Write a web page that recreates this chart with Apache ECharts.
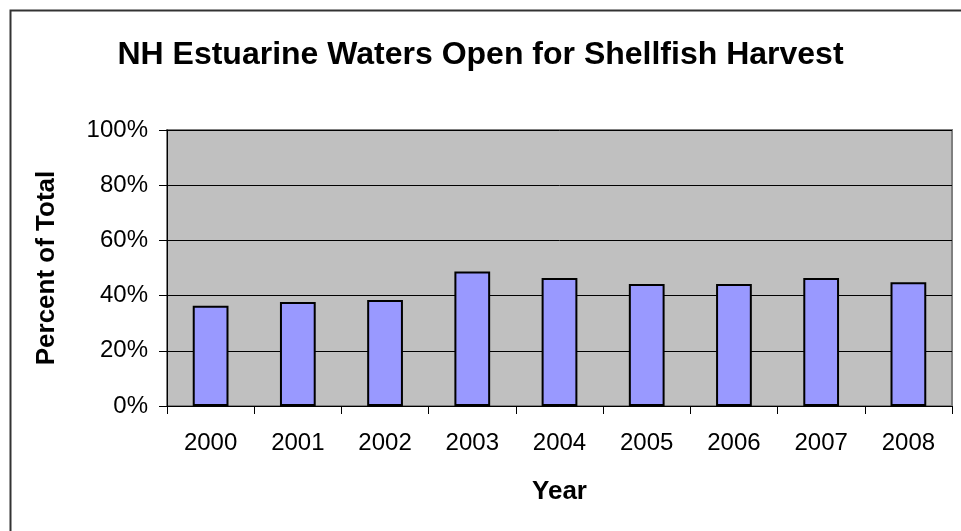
<!DOCTYPE html>
<html>
<head>
<meta charset="utf-8">
<script src="https://cdn.jsdelivr.net/npm/echarts@6/dist/echarts.min.js"></script>
<style>
html,body{margin:0;padding:0;background:#fff;}
#chart{width:961px;height:531px;}
</style>
</head>
<body>
<div id="chart"></div>
<script>
const years = ['2000','2001','2002','2003','2004','2005','2006','2007','2008'];
const percentOpen = [36.3, 37.7, 38.4, 48.7, 46.4, 44.2, 44.2, 46.4, 44.8];
const titleText = 'NH Estuarine Waters Open for Shellfish Harvest';
const yAxisTitle = 'Percent of Total';
const xAxisTitle = 'Year';

const chart = echarts.init(document.getElementById('chart'), null, {renderer:'canvas'});
const font = '"Liberation Sans", Arial, sans-serif';
chart.setOption({
  animation: false,
  backgroundColor: '#ffffff',
  graphic: [{
    type: 'rect', left: 8, top: 8, z: -1,
    shape: {width: 1000, height: 600},
    style: {fill: 'none', stroke: '#333', lineWidth: 2}
  }],
  title: {
    text: titleText, left: 'center', top: 34,
    textStyle: {fontFamily: font, fontSize: 32, fontWeight: 'bold', color: '#000'}
  },
  grid: {
    left: 167, right: 9, top: 130, bottom: 125,
    show: true, backgroundColor: '#c0c0c0', borderColor: '#808080', borderWidth: 2
  },
  xAxis: {
    type: 'category', data: years,
    name: xAxisTitle, nameLocation: 'middle', nameGap: 73,
    nameTextStyle: {fontFamily: font, fontSize: 26, fontWeight: 'bold', color: '#000'},
    axisLine: {lineStyle: {color: '#000', width: 1}},
    axisTick: {show: true, length: 8, lineStyle: {color: '#000'}},
    axisLabel: {fontFamily: font, fontSize: 24, color: '#000', margin: 25}
  },
  yAxis: {
    type: 'value', min: 0, max: 100, interval: 20,
    name: yAxisTitle, nameLocation: 'middle', nameGap: 107,
    nameTextStyle: {fontFamily: font, fontSize: 26, fontWeight: 'bold', color: '#000'},
    axisLine: {show: true, lineStyle: {color: '#000', width: 1}},
    axisTick: {show: true, length: 8, lineStyle: {color: '#000'}},
    axisLabel: {formatter: '{value}%', fontFamily: font, fontSize: 24, color: '#000', margin: 19},
    splitLine: {lineStyle: {color: '#000', width: 1}}
  },
  series: [{
    type: 'bar', data: percentOpen, barWidth: '41%',
    itemStyle: {color: '#9999ff', borderColor: '#000', borderWidth: 2}
  }]
});
</script>
</body>
</html>
